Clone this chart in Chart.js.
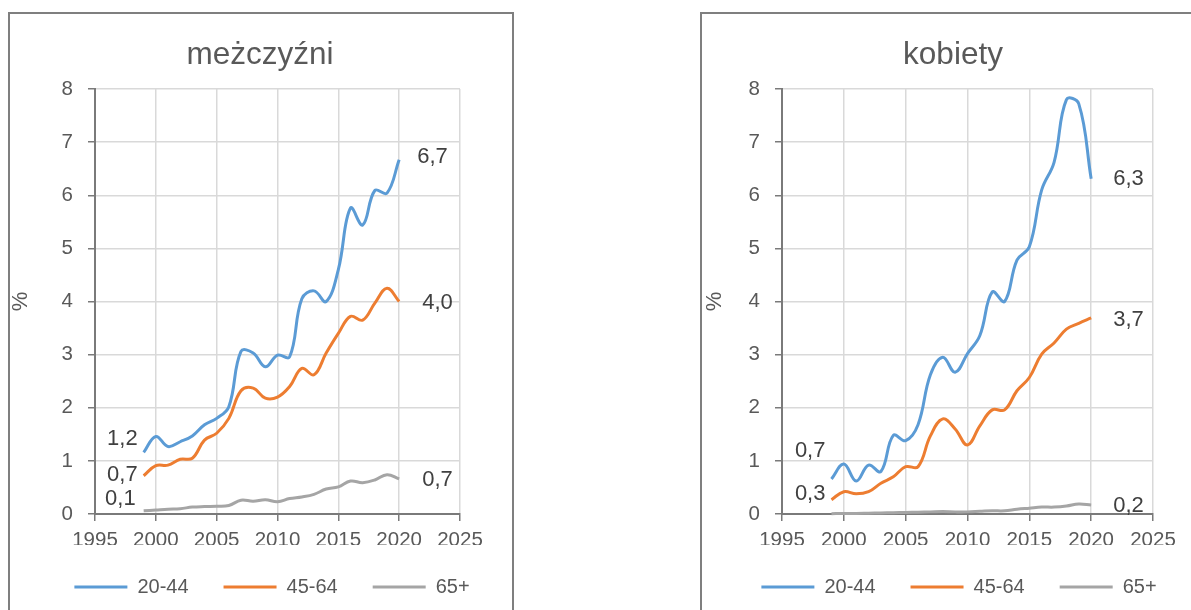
<!DOCTYPE html>
<html><head><meta charset="utf-8">
<script src="https://cdn.jsdelivr.net/npm/chart.js@4.4.1/dist/chart.umd.min.js"></script>
<style>
html,body{margin:0;padding:0;background:#fff;width:1191px;height:610px;overflow:hidden;position:relative;}
.frame{position:absolute;border:2px solid #7f7f7f;box-sizing:border-box;}
canvas{position:absolute;top:0;}
</style></head><body>
<div class="frame" style="left:8px;top:12px;width:506px;height:700px"></div>
<div class="frame" style="left:700px;top:12px;width:600px;height:700px"></div>
<canvas id="c1" width="515" height="610" style="left:0px"></canvas>
<canvas id="c2" width="501" height="610" style="left:690px"></canvas>
<script>
// ---- data ----
const years = [1999,2000,2001,2002,2003,2004,2005,2006,2007,2008,2009,2010,2011,2012,2013,2014,2015,2016,2017,2018,2019,2020];
const xTicks = [1995,2000,2005,2010,2015,2020,2025];
const yTicks = [0,1,2,3,4,5,6,7,8];
const seriesNames = ['20-44','45-64','65+'];
const titles = ['meżczyźni','kobiety'];
const yTitle = '%';

const menYoung = [1.16,1.46,1.27,1.36,1.47,1.68,1.80,2.02,3.06,3.03,2.77,2.99,2.96,4.05,4.20,4.00,4.60,5.76,5.44,6.09,6.04,6.67];
const menMid   = [0.72,0.91,0.92,1.03,1.05,1.39,1.52,1.80,2.32,2.37,2.18,2.20,2.40,2.74,2.62,3.03,3.40,3.72,3.65,3.97,4.25,4.00];
const menOld   = [0.06,0.075,0.09,0.10,0.13,0.14,0.145,0.16,0.26,0.24,0.27,0.23,0.29,0.32,0.37,0.47,0.51,0.62,0.59,0.64,0.74,0.66];

const womenYoung = [0.66,0.94,0.62,0.92,0.80,1.48,1.38,1.68,2.62,2.95,2.67,3.02,3.36,4.18,4.00,4.78,5.03,6.10,6.62,7.80,7.72,6.31];
const womenMid   = [0.27,0.42,0.38,0.42,0.58,0.70,0.89,0.89,1.47,1.79,1.60,1.30,1.66,1.96,1.96,2.32,2.57,3.01,3.22,3.48,3.59,3.69];
const womenOld   = [0.005,0.01,0.01,0.015,0.02,0.025,0.03,0.035,0.04,0.045,0.04,0.04,0.05,0.06,0.06,0.09,0.11,0.13,0.13,0.15,0.19,0.17];

const colors = ['#5B9BD5','#ED7D31','#A5A5A5'];
const FONT = '"Liberation Sans", Arial, sans-serif';
const TXT = '#595959';

const endLabels = {
  id: 'endLabels',
  afterDatasetsDraw(chart, args, opts) {
    const ctx = chart.ctx;
    ctx.save();
    ctx.font = '22px ' + FONT;
    ctx.fillStyle = '#404040';
    ctx.textBaseline = 'middle';
    const fmt = v => v.toFixed(1).replace('.', ',');
    chart.data.datasets.forEach((ds, i) => {
      const pts = chart.getDatasetMeta(i).data;
      const f = opts.first[i], l = opts.last[i];
      if (f) { const p = pts[0]; ctx.textAlign = 'right'; ctx.fillText(fmt(ds.data[0].y), p.x + f.dx, p.y + f.dy); }
      if (l) { const n = pts.length - 1; const p = pts[n]; ctx.textAlign = 'left'; ctx.fillText(fmt(ds.data[n].y), p.x + l.dx, p.y + l.dy); }
    });
    ctx.restore();
  }
};

const placeBlocks = {
  id: 'placeBlocks',
  afterLayout(chart, args, opts) {
    const lg = chart.legend;
    if (lg) {
      const dx = opts.legendCx - (lg.left + lg.right) / 2;
      lg.left += dx; lg.right += dx;
      const pad = lg.options.labels.padding;
      const dy = (opts.legendCy - pad - 10) - lg.top;
      lg.top += dy; lg.bottom += dy;
    }
    const t = chart.titleBlock;
    if (t) {
      const dx = opts.titleCx - (t.left + t.right) / 2;
      t.left += dx; t.right += dx;
    }
  }
};

function makeChart(id, title, vals, geo, labelPos) {
  const H = 610;
  const datasets = vals.map((arr, i) => ({
    label: seriesNames[i],
    data: years.map((y, k) => ({x: y, y: arr[k]})),
    borderColor: colors[i],
    backgroundColor: colors[i],
    borderWidth: 3,
    pointRadius: 0,
    tension: 0.4,
    fill: false,
    clip: 6
  }));
  return new Chart(document.getElementById(id), {
    type: 'line',
    data: { datasets },
    plugins: [endLabels, placeBlocks],
    options: {
      responsive: false,
      animation: false,
      layout: { padding: 0 },
      plugins: {
        title: { display: true, text: title, color: TXT, font: {family: FONT, size: 31.5, weight: 'normal', lineHeight: 1.2}, padding: {top: 36, bottom: 15.2} },
        legend: { display: true, position: 'bottom',
          labels: { color: TXT, font: {family: FONT, size: 20}, usePointStyle: true, pointStyle: 'line', pointStyleWidth: 53, boxHeight: 20, padding: 35 } },
        tooltip: { enabled: false },
        endLabels: labelPos,
        placeBlocks: { legendCx: geo.legendCx, legendCy: 587, titleCx: geo.titleCx }
      },
      scales: {
        x: {
          type: 'linear', min: 1995, max: 2025,
          afterBuildTicks: s => { s.ticks = xTicks.map(v => ({value: v})); },
          afterFit: s => { s.height = H - 514 - (s.chart.legend ? s.chart.legend.height : 65); s.paddingLeft = 0; s.paddingRight = geo.padR; },
          grid: { color: '#d9d9d9', lineWidth: 1.5, tickColor: '#7a7a7a', tickLength: 7, tickWidth: 1.5 },
          border: { color: '#7a7a7a', width: 2 },
          ticks: { color: TXT, font: {family: FONT, size: 20.5}, padding: 7, maxRotation: 0, autoSkip: false, callback: v => String(v) }
        },
        y: {
          min: 0, max: 8,
          afterBuildTicks: s => { s.ticks = yTicks.map(v => ({value: v})); },
          afterFit: s => { s.width = geo.yW; s.paddingTop = 0; s.paddingBottom = 0; },
          grid: { color: '#d9d9d9', lineWidth: 1.5, tickColor: '#7a7a7a', tickLength: 7, tickWidth: 1.5 },
          border: { color: '#7a7a7a', width: 2 },
          ticks: { color: TXT, font: {family: FONT, size: 20.5}, padding: 15, callback: v => String(v) },
          title: { display: true, text: yTitle, color: TXT, font: {family: FONT, size: 22}, padding: {top: geo.yTitlePad, bottom: 0} }
        }
      }
    }
  });
}

makeChart('c1', titles[0], [menYoung, menMid, menOld],
  { yW: 95, padR: 55, legendCx: 272, titleCx: 260, yTitlePad: 8 },
  { first: [{dx: -6, dy: -13}, {dx: -6, dy: -1}, {dx: -8, dy: -12}], last: [{dx: 18, dy: -3}, {dx: 23, dy: 1}, {dx: 23, dy: 1}] });

makeChart('c2', titles[1], [womenYoung, womenMid, womenOld],
  { yW: 92, padR: 38, legendCx: 269, titleCx: 263, yTitlePad: 12 },
  { first: [{dx: -6, dy: -28}, {dx: -6, dy: -6}, null], last: [{dx: 22, dy: 0}, {dx: 22, dy: 2}, {dx: 22, dy: 1}] });
</script>
</body></html>
